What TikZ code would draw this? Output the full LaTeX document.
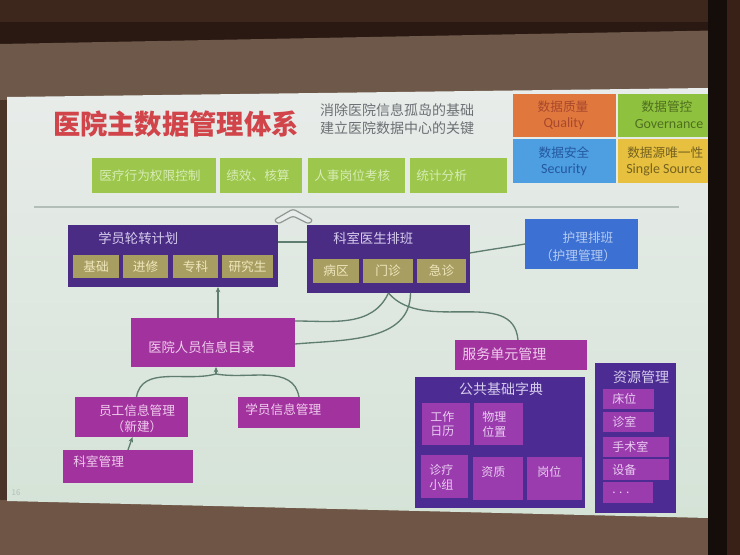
\documentclass[tikz,border=0pt]{standalone}
\usepackage{fontspec}
\newfontfamily\cjk{Noto Sans CJK SC}
\newfontfamily\lat{Carlito}
\usetikzlibrary{fit,calc,arrows.meta}
\definecolor{bgdark}{HTML}{2A1912}
\definecolor{bgtop}{HTML}{3D261B}
\definecolor{wallbrown}{HTML}{6D584A}
\definecolor{floorbrown}{HTML}{6E5545}
\definecolor{leftwall}{HTML}{4A3428}
\definecolor{slideT}{HTML}{E8ECEA}
\definecolor{slideB}{HTML}{D5E3D7}
\definecolor{frame}{HTML}{140D0A}
\definecolor{rightwall}{HTML}{3A2118}
\definecolor{titlered}{HTML}{D0444A}
\definecolor{subgray}{HTML}{6C7074}
\definecolor{qorange}{HTML}{E0783E}
\definecolor{qorangeT}{HTML}{A8482C}
\definecolor{qgreen}{HTML}{8EC23E}
\definecolor{qgreenT}{HTML}{4F6E1E}
\definecolor{qblue}{HTML}{4E9EE2}
\definecolor{qblueT}{HTML}{24589E}
\definecolor{qyellow}{HTML}{E6C03E}
\definecolor{qyellowT}{HTML}{766220}
\definecolor{lgreen}{HTML}{9CC64C}
\definecolor{lgreenT}{HTML}{D8ECB4}
\definecolor{dpurple}{HTML}{4A2C84}
\definecolor{dpurpleT}{HTML}{D6CCEE}
\definecolor{olive}{HTML}{A89E62}
\definecolor{oliveT}{HTML}{EEE6BC}
\definecolor{nblue}{HTML}{3C70D2}
\definecolor{nblueT}{HTML}{B6CCF2}
\definecolor{mag}{HTML}{A2329E}
\definecolor{magT}{HTML}{F0CCEE}
\definecolor{ipurple}{HTML}{4C2C92}
\definecolor{isub}{HTML}{9A3CAE}
\definecolor{isubT}{HTML}{EACCF2}
\definecolor{conn}{HTML}{5F7D70}
\definecolor{hline}{HTML}{B4BEB8}
\newcommand\rbx[6]{\node[rb,fill=#6,fit={(#2,#3) (#4,#5)}] (#1) {};}
\tikzset{
  rb/.style={inner sep=0pt, outer sep=0pt, draw=none},
  tx/.style={inner sep=0pt, font=\cjk\fontsize{9.5}{12}\selectfont},
  txs/.style={inner sep=0pt, font=\cjk\fontsize{9}{11}\selectfont, align=left},
  qt/.style={inner sep=0pt, font=\cjk\fontsize{9.5}{12}\selectfont},
  ql/.style={inner sep=0pt, font=\lat\fontsize{10.5}{12}\selectfont},
  cn/.style={draw=conn, line width=1pt},
  tip/.style={-{Stealth[length=4pt,width=3.5pt]}},
}
\begin{document}
\begin{tikzpicture}[x=0.75pt,y=-0.75pt]
\useasboundingbox (0,0) rectangle (740,555);
% room around the screen
\fill[bgdark] (0,0) rectangle (740,555);
\fill[bgtop] (0,0) rectangle (740,22);
\fill[wallbrown] (0,44) -- (740,30) -- (740,94) -- (0,102) -- cycle;
\fill[floorbrown] (0,497) -- (740,515) -- (740,555) -- (0,555) -- cycle;
\fill[leftwall] (0,100) rectangle (7,500);
% slide
\shade[top color=slideT, bottom color=slideB] (7,97) -- (708,88) -- (708,518) -- (7,501) -- cycle;

% title
\node[inner sep=0pt, font=\cjk\bfseries\fontsize{20.5}{24}\selectfont, text=titlered] (title) at (176,124) {医院主数据管理体系};
\node[inner sep=0pt, font=\cjk\fontsize{10.5}{14}\selectfont, text=subgray, align=left] (subt) at (397,119) {消除医院信息孤岛的基础\\建立医院数据中心的关键};

% quadrant
\rbx{qa}{513}{94}{616}{137}{qorange}
\rbx{qb}{618}{94}{720}{137}{qgreen}
\rbx{qc}{513}{139}{616}{183}{qblue}
\rbx{qd}{618}{139}{720}{183}{qyellow}
\node[qt, text=qorangeT] (qa1) at (563,107) {数据质量};
\node[ql, text=qorangeT] (qa2) at (564,124) {Quality};
\node[qt, text=qgreenT] (qb1) at (667,107) {数据管控};
\node[ql, text=qgreenT] (qb2) at (669,124) {Governance};
\node[qt, text=qblueT] (qc1) at (564,153) {数据安全};
\node[ql, text=qblueT] (qc2) at (564,170) {Security};
\node[qt, text=qyellowT, anchor=west] (qd1) at (627,153) {数据源唯一性};
\node[ql, text=qyellowT, anchor=west] (qd2) at (626,170) {Single Source};

% green row
\rbx{g1}{92}{158}{216}{193}{lgreen}
\rbx{g2}{220}{158}{302}{193}{lgreen}
\rbx{g3}{308}{158}{405}{193}{lgreen}
\rbx{g4}{410}{158}{507}{193}{lgreen}
\node[tx, text=lgreenT, anchor=west] (g1t) at ($(g1.west)+(7,0)$) {医疗行为权限控制};
\node[tx, text=lgreenT, anchor=west] (g2t) at ($(g2.west)+(6,0)$) {绩效、核算};
\node[tx, text=lgreenT, anchor=west] (g3t) at ($(g3.west)+(6,0)$) {人事岗位考核};
\node[tx, text=lgreenT, anchor=west] (g4t) at ($(g4.west)+(6,0)$) {统计分析};

% separator and chevron
\draw[hline, line width=0.8pt] (34,207) -- (679,207);
\draw[draw=hline!80!black, fill=slideT, line width=0.9pt, line join=round, rounded corners=2pt]
  (274,220) -- (293,209) -- (313,220) -- (309,224) -- (293,216) -- (278,224) -- cycle;

% 学员轮转计划
\rbx{xl}{68}{225}{278}{287}{dpurple}
\node[tx, text=dpurpleT, anchor=west, font=\cjk\fontsize{10}{12}\selectfont] (xlt) at (98,238) {学员轮转计划};
\rbx{x1}{73}{255}{119}{278}{olive}
\rbx{x2}{123}{255}{168}{278}{olive}
\rbx{x3}{173}{255}{218}{278}{olive}
\rbx{x4}{222}{255}{273}{278}{olive}
\node[tx, text=oliveT] at (x1) {基础};
\node[tx, text=oliveT] at (x2) {进修};
\node[tx, text=oliveT] at (x3) {专科};
\node[tx, text=oliveT] at (x4) {研究生};

% 科室医生排班
\rbx{ks}{307}{225}{470}{293}{dpurple}
\node[tx, text=dpurpleT, anchor=west, font=\cjk\fontsize{10}{12}\selectfont] (kst) at (333,238) {科室医生排班};
\rbx{k1}{313}{259}{359}{283}{olive}
\rbx{k2}{363}{259}{413}{283}{olive}
\rbx{k3}{417}{259}{466}{283}{olive}
\node[tx, text=oliveT] at (k1) {病区};
\node[tx, text=oliveT] at (k2) {门诊};
\node[tx, text=oliveT] at (k3) {急诊};

% 护理排班
\rbx{hl}{525}{219}{638}{269}{nblue}
\node[tx, text=nblueT] (hlt1) at (588,238) {护理排班};
\node[tx, text=nblueT] (hlt2) at (578,256) {（护理管理）};

% 医院人员信息目录
\rbx{ry}{131}{318}{295}{367}{mag}
\node[tx, text=magT, anchor=west, font=\cjk\fontsize{10}{12}\selectfont] (ryt) at (148,347) {医院人员信息目录};

% 员工 / 学员 / 科室
\rbx{yg}{75}{397}{188}{437}{mag}
\node[tx, text=magT, align=center] (ygt) at (137,419) {员工信息管理\\（新建）};
\rbx{xx}{238}{397}{360}{428}{mag}
\node[tx, text=magT, anchor=west] (xxt) at (245,410) {学员信息管理};
\rbx{km}{63}{450}{193}{483}{mag}
\node[tx, text=magT, anchor=west] (kmt) at (73,462) {科室管理};

% 服务单元管理
\rbx{fw}{455}{340}{587}{370}{mag}
\node[tx, text=magT, anchor=west, font=\cjk\fontsize{10.5}{12}\selectfont] (fwt) at (462,354) {服务单元管理};

% 公共基础字典
\rbx{gg}{415}{377}{585}{508}{ipurple}
\node[tx, text=dpurpleT, font=\cjk\fontsize{10.5}{12}\selectfont] (ggt) at (501,389) {公共基础字典};
\rbx{d1}{422}{403}{470}{445}{isub}
\rbx{d2}{474}{403}{523}{445}{isub}
\rbx{d3}{421}{455}{468}{498}{isub}
\rbx{d4}{473}{457}{523}{500}{isub}
\rbx{d5}{527}{457}{582}{500}{isub}
\node[txs, text=isubT, anchor=north west] at ($(d1.north west)+(8,8)$) {工作\\日历};
\node[txs, text=isubT, anchor=north west] at ($(d2.north west)+(8,8)$) {物理\\位置};
\node[txs, text=isubT, anchor=north west] at ($(d3.north west)+(8,9)$) {诊疗\\小组};
\node[txs, text=isubT, anchor=north west] at ($(d4.north west)+(8,9)$) {资质};
\node[txs, text=isubT, anchor=north west] at ($(d5.north west)+(10,9)$) {岗位};

% 资源管理
\rbx{zy}{595}{363}{676}{513}{ipurple}
\node[tx, text=dpurpleT, font=\cjk\fontsize{10.5}{12}\selectfont] (zyt) at (641,377) {资源管理};
\rbx{r1}{603}{389}{654}{409}{isub}
\rbx{r2}{603}{412}{654}{432}{isub}
\rbx{r3}{603}{437}{669}{457}{isub}
\rbx{r4}{603}{459}{669}{480}{isub}
\rbx{r5}{603}{482}{653}{503}{isub}
\node[txs, text=isubT, anchor=west] at ($(r1.west)+(9,0)$) {床位};
\node[txs, text=isubT, anchor=west] at ($(r2.west)+(9,0)$) {诊室};
\node[txs, text=isubT, anchor=west] at ($(r3.west)+(9,0)$) {手术室};
\node[txs, text=isubT, anchor=west] at ($(r4.west)+(9,0)$) {设备};
\node[txs, text=isubT, anchor=west] at ($(r5.west)+(9,0)$) {. . .};

% page number
\node[inner sep=0pt, font=\cjk\fontsize{6}{7}\selectfont, text=hline] (pg) at (16,493) {16};

% connectors
\draw[cn] ($(xl.north east)+(0,17)$) -- ($(ks.north west)+(0,17)$);
\draw[cn] ($(ks.north east)+(0,28)$) to[out=10,in=190] ($(hl.north west)+(0,25)$);
\draw[cn,tip] ($(ry.north)+(5,0)$) -- ($(xl.south)+(45,0)$);
\draw[cn] ($(ry.north east)+(0,3)$) to[out=0,in=-115] (ks.south);
\draw[cn] ($(ry.north east)+(0,26)$) to[out=5,in=-90] ($(ks.south)+(22,0)$);
\draw[cn] (ks.south) to[out=-50,in=95] ($(fw.north)+(-3,0)$);
\coordinate (jn) at ($(ry.south)+(3,7)$);
\draw[cn,tip] (jn) -- ($(ry.south)+(3,0)$);
\draw[cn] (jn) to[out=195,in=80] ($(yg.north)+(5,0)$);
\draw[cn] (jn) to[out=-10,in=100] (xx.north);
\draw[cn,tip] ($(km.north)+(0,0)$) -- ($(yg.south)+(1,0)$);

% screen frame on the right
\fill[frame] (708,0) rectangle (727,555);
\fill[rightwall] (727,0) rectangle (740,555);
\end{tikzpicture}
\end{document}
